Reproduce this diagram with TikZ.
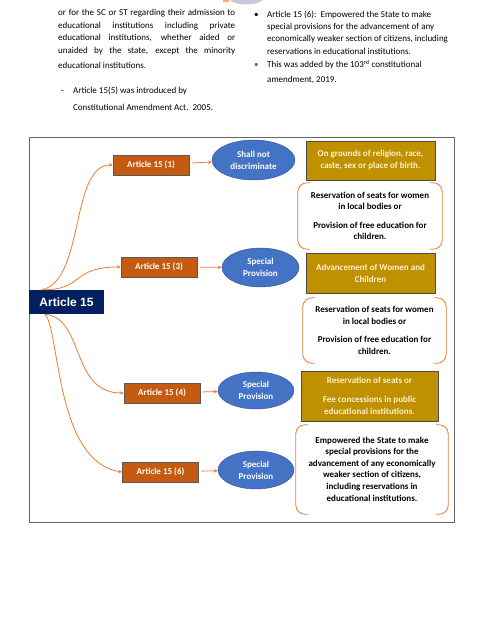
\documentclass[tikz,border=0pt]{standalone}
\usepackage{fontspec}
\setmainfont{Carlito}
\newfontfamily\headfont{Liberation Sans}
\usetikzlibrary{arrows.meta,shapes.geometric}
\definecolor{artorange}{HTML}{C55A11}
\definecolor{linkorange}{HTML}{ED7D31}
\definecolor{provblue}{HTML}{4472C4}
\definecolor{provgold}{HTML}{BF9000}
\definecolor{navyhead}{HTML}{002060}
\definecolor{goldtext}{HTML}{FFF2CC}
\definecolor{dotblue}{HTML}{2E75B6}

\tikzset{
  artbox/.style={draw=gray!70!black,fill=artorange,text=white,
    font=\bfseries\fontsize{9}{10}\selectfont,minimum width=76pt,minimum height=20pt,inner sep=0pt},
  provell/.style={ellipse,draw=provblue!70!black,fill=provblue,text=white,
    font=\bfseries\fontsize{9}{12}\selectfont,align=center,inner sep=0pt},
  goldbox/.style={draw=gray!60!black,fill=provgold,text=goldtext,
    font=\bfseries\fontsize{9}{12}\selectfont,align=center,inner sep=0pt},
  notebox/.style={font=\bfseries\fontsize{9}{11.5}\selectfont,align=center,inner sep=0pt},
  bracket/.style={draw=linkorange,line width=0.8pt,rounded corners=9pt},
  branch/.style={draw=linkorange,line width=0.8pt,-{Stealth[length=4pt,width=3.5pt]}},
}

\begin{document}
\begin{tikzpicture}[x=1pt,y=-1pt]
  \useasboundingbox (0,0) rectangle (486,639);
  % logo cut at the top of the page
  \fill[orange!60] (223,0) rectangle (229,2);
  \fill[blue!25!gray!35] (230,0) .. controls (236,6) and (256,6) .. (263,0) -- cycle;

  % text above the chart
  \begin{scope}[font=\fontsize{9}{10}\selectfont,inner sep=0pt,anchor=base west]
   \node (l1) at (58,16) {\makebox[177pt][s]{or for the SC or ST regarding their admission to}};
   \node (l2) at (58,28.5) {\makebox[177pt][s]{educational institutions including private}};
   \node (l3) at (58,41) {\makebox[177pt][s]{educational institutions, whether aided or}};
   \node (l4) at (58,54) {\makebox[177pt][s]{unaided by the state, except the minority}};
   \node (l5) at (58,69) {educational institutions.};
   \node (d1) at (61,94) {-};
   \node (l6) at (73,94) {Article 15(5) was introduced by};
   \node (l7) at (73,111) {Constitutional Amendment Act.~~2005.};
   \node (b1) at (254,18) {\textbullet};
   \node (r1) at (267,18) {Article 15 (6):~~Empowered the State to make};
   \node (r2) at (267,30) {special provisions for the advancement of any};
   \node (r3) at (267,42) {economically weaker section of citizens, including};
   \node (r4) at (267,55) {reservations in educational institutions.};
   \node[text=dotblue] (b2) at (254,68) {\textbullet};
   \node (r5) at (267,68) {This was added by the 103\textsuperscript{rd} constitutional};
   \node (r6) at (267,83) {amendment, 2019.};
  \end{scope}

  % chart
  \draw[gray!80!black,line width=0.8pt] (29,137) rectangle (454,522);
  \node[fill=navyhead,text=white,font=\headfont\bfseries\fontsize{12}{13}\selectfont,
    minimum width=75pt,minimum height=24pt,inner sep=0pt] (art) at (66.5,302) {Article 15};

  \node[artbox] (a1) at (151,165) {Article 15 (1)};
  \node[artbox] (a3) at (159,267) {Article 15 (3)};
  \node[artbox] (a4) at (162,393) {Article 15 (4)};
  \node[artbox] (a6) at (160.5,472) {Article 15 (6)};

  \node[provell,minimum width=83pt,minimum height=40pt] (e1) at (253.5,160) {Shall not\\discriminate};
  \node[provell,minimum width=77pt,minimum height=39pt] (e3) at (260.5,267.5) {Special\\Provision};
  \node[provell,minimum width=76pt,minimum height=37pt] (e4) at (256,390.5) {Special\\Provision};
  \node[provell,minimum width=76pt,minimum height=38pt] (e6) at (256,470) {Special\\Provision};

  \node[goldbox,minimum width=129pt,minimum height=39pt] (g1) at (370.5,160.5)
    {On grounds of religion, race,\\caste, sex or place of birth.};
  \node[goldbox,minimum width=129pt,minimum height=40pt] (g3) at (370.5,273)
    {Advancement of Women and\\Children};
  \node[goldbox,minimum width=137pt,minimum height=50pt] (g4) at (369.5,396)
    {Reservation of seats or\\[7pt]Fee concessions in public\\educational institutions.};

  \node[notebox,minimum width=144pt,minimum height=66pt] (n1) at (370,216)
    {Reservation of seats for women\\in local bodies or\\[7pt]Provision of free education for\\children.};
  \node[notebox,minimum width=143pt,minimum height=65pt] (n3) at (374.5,330.5)
    {Reservation of seats for women\\in local bodies or\\[7pt]Provision of free education for\\children.};
  \node[notebox,minimum width=152pt,minimum height=89pt] (n6) at (372,469.5)
    {Empowered the State to make\\special provisions for the\\advancement of any economically\\weaker section of citizens,\\including reservations in\\[1pt]educational institutions.};

  \foreach \n in {n1,n3,n6} {
    \draw[bracket] ([xshift=12pt]\n.north west) -- (\n.north west) -- (\n.south west) -- ([xshift=12pt]\n.south west);
    \draw[bracket] ([xshift=-12pt]\n.north east) -- (\n.north east) -- (\n.south east) -- ([xshift=-12pt]\n.south east);
  }

  \draw[branch] ([xshift=-24.5pt]art.north) .. controls (85,280) and (70,165) .. (a1.west);
  \draw[branch] ([xshift=-24.5pt]art.north) .. controls (85,290) and (70,267) .. (a3.west);
  \draw[branch] ([xshift=-21.5pt]art.south) .. controls (85,318) and (70,393) .. (a4.west);
  \draw[branch] ([xshift=-21.5pt]art.south) .. controls (60,330) and (55,462) .. (a6.west);

  \draw[branch,shorten <=3pt] (a1) -- (e1);
  \draw[branch,shorten <=3pt] (a3) -- (e3);
  \draw[branch,shorten <=3pt] (a4) -- (e4);
  \draw[branch,shorten <=3pt] (a6) -- (e6);
\end{tikzpicture}
\end{document}
